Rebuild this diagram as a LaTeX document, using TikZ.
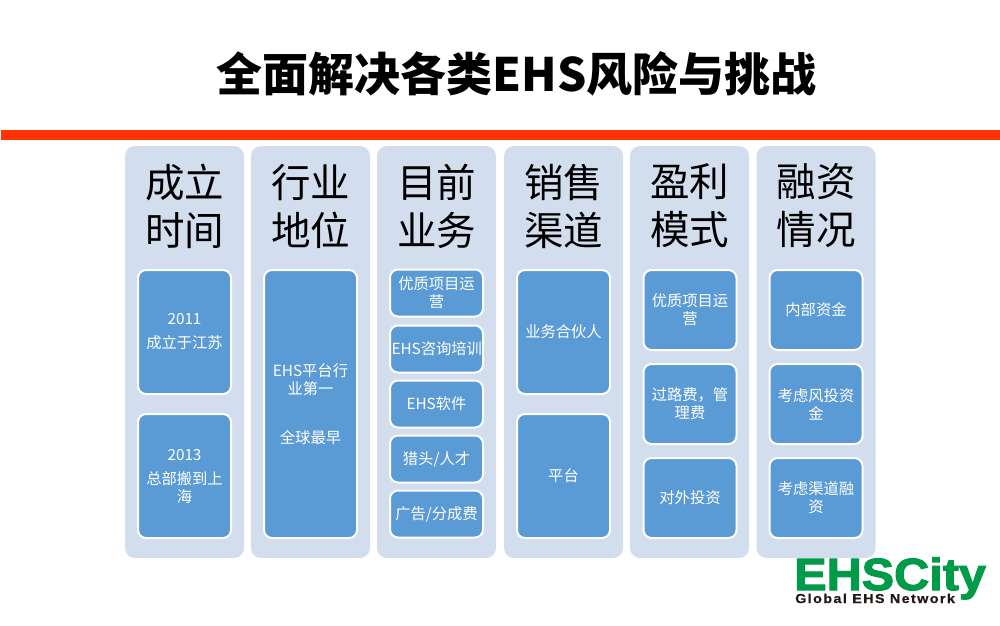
\documentclass[tikz,border=0pt]{standalone}
\usepackage{fontspec}
\setmainfont{Noto Sans CJK SC}
\newfontfamily\logofont[FakeBold=2.5,FakeStretch=1.08]{Liberation Sans Bold}
\newfontfamily\taglinefont[FakeBold=0.6,FakeStretch=1.1,LetterSpace=11]{Liberation Sans Bold}
\definecolor{panelblue}{HTML}{D2DEEE}
\definecolor{itemblue}{HTML}{5B9BD5}
\definecolor{barred}{HTML}{FF3300}
\definecolor{logogreen}{HTML}{009B48}
\definecolor{logoblack}{HTML}{231815}
\tikzset{
  panelbox/.style={fill=panelblue, rounded corners=10pt, minimum width=119pt,
                   minimum height=412pt, inner sep=0},
  itembox/.style={draw=white, line width=2pt, fill=itemblue, rounded corners=8pt,
                  minimum width=93pt, text width=90pt, align=center, inner sep=0,
                  text=white, font=\fontsize{15.3}{18}\selectfont},
  headtext/.style={align=center, inner sep=0, text=black,
                   font=\fontsize{39.5}{48}\selectfont},
}

\begin{document}
\begin{tikzpicture}[x=1pt, y=-1pt]
\useasboundingbox (0,0) rectangle (1000,625);

\node[inner sep=0, font=\fontsize{46}{50}\selectfont\bfseries] (title) at (516.5,74)
    {全面解决各类EHS风险与挑战};
\fill[barred] (1,130) rectangle (1000,140);

% first column
\node[panelbox] (panelA) at (184.5,352) {};
\node[headtext] (headA) at (184.5,206) {成立\\时间};
\node[itembox, minimum height=124pt] (itemAa) at (184.5,332) {2011\\[6pt]成立于江苏};
\node[itembox, minimum height=124pt] (itemAb) at (184.5,476) {2013\\[6pt]总部搬到上\\海};

% second column
\node[panelbox] (panelB) at (310.5,352) {};
\node[headtext] (headB) at (310.5,206) {行业\\地位};
\node[itembox, minimum height=268pt] (itemBa) at (310.5,404) {EHS平台行\\业第一\\[31pt]全球最早};

% third column
\node[panelbox] (panelC) at (436.5,352) {};
\node[headtext] (headC) at (436.5,206) {目前\\业务};
\node[itembox, minimum height=47pt] (itemCa) at (436.5,293) {优质项目运\\营};
\node[itembox, minimum height=47pt] (itemCb) at (436.5,349) {EHS咨询培训};
\node[itembox, minimum height=47pt] (itemCc) at (436.5,404) {EHS软件};
\node[itembox, minimum height=47pt] (itemCd) at (436.5,459) {猎头/人才};
\node[itembox, minimum height=47pt] (itemCe) at (436.5,514) {广告/分成费};

% fourth column
\node[panelbox] (panelD) at (563.5,352) {};
\node[headtext] (headD) at (563.5,206) {销售\\渠道};
\node[itembox, minimum height=124pt] (itemDa) at (563.5,332) {业务合伙人};
\node[itembox, minimum height=124pt] (itemDb) at (563.5,476) {平台};

% fifth column
\node[panelbox] (panelE) at (689.5,352) {};
\node[headtext] (headE) at (689.5,206) {盈利\\模式};
\node[itembox, minimum height=80pt] (itemEa) at (690,310) {优质项目运\\营};
\node[itembox, minimum height=80pt] (itemEb) at (690,404) {过路费，管\\理费};
\node[itembox, minimum height=80pt] (itemEc) at (690,498) {对外投资};

% sixth column
\node[panelbox] (panelF) at (816,352) {};
\node[headtext] (headF) at (816,206) {融资\\情况};
\node[itembox, minimum height=80pt] (itemFa) at (816,310) {内部资金};
\node[itembox, minimum height=80pt] (itemFb) at (816,404) {考虑风投资\\金};
\node[itembox, minimum height=80pt] (itemFc) at (816,498) {考虑渠道融\\资};

% logo
\node[inner sep=0, anchor=base west, text=logogreen,
      font=\fontsize{45}{45}\selectfont\logofont] (logoname) at (794,590) {EHSCity};
\node[inner sep=0, anchor=base west, text=logoblack,
      font=\fontsize{13}{13}\selectfont\taglinefont] (logotag) at (795,603) {Global EHS Network};
\end{tikzpicture}
\end{document}
